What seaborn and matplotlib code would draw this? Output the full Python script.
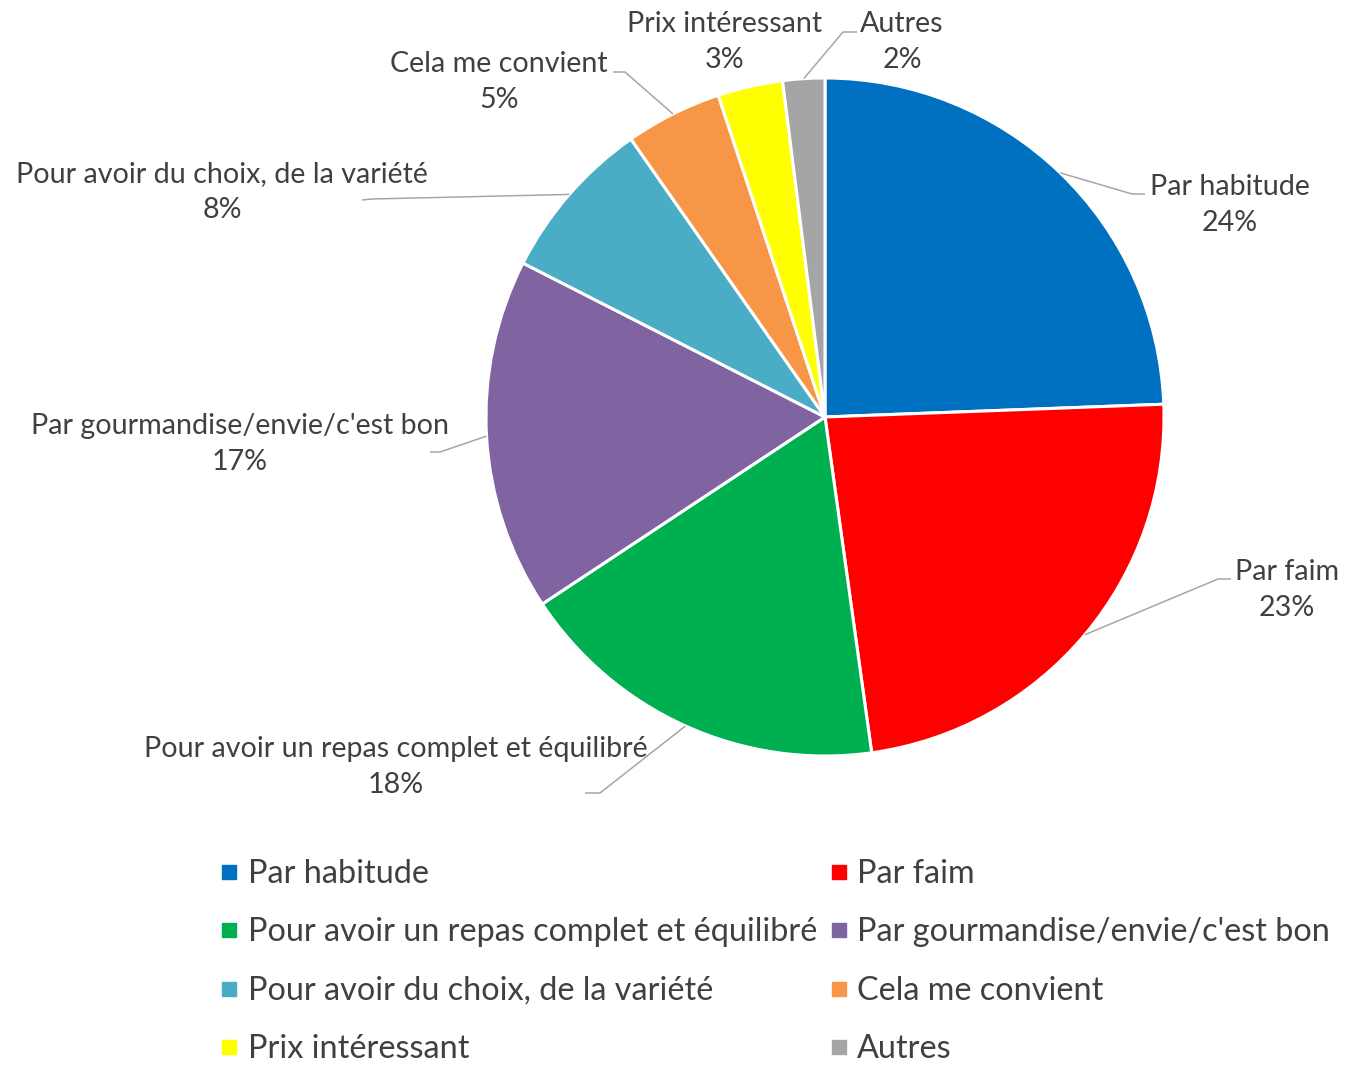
import numpy as np
import matplotlib
matplotlib.use("Agg")
import matplotlib.pyplot as plt
from matplotlib.lines import Line2D
import seaborn as sns

# data
categories = ["Par habitude", "Par faim", "Pour avoir un repas complet et équilibré",
              "Par gourmandise/envie/c'est bon", "Pour avoir du choix, de la variété",
              "Cela me convient", "Prix intéressant", "Autres"]
shares = [24.4, 23.4, 17.9, 16.8, 7.8, 4.6, 3.1, 2.0]
pct_labels = ["24%", "23%", "18%", "17%", "8%", "5%", "3%", "2%"]
colors = ["#0070C0", "#FF0000", "#00B050", "#8064A2", "#4BACC6", "#F79646", "#FFFF00", "#A5A5A5"]

W, H = 1345, 1069
CX, CY, R = 825, 417, 339   # pie centre / radius in pixels (y from top)

# label layout in pixels (y from top): text centre, elbow, end of leader
label_pos = [(1230, 205), (1287, 590), (396, 767), (240, 444),
             (222, 192), (499, 82), (725, 42), (902, 42)]
leaders = [((1132, 194), (1145, 194)), ((1218, 579), (1231, 579)),
           ((600, 793), (585, 793)), ((440, 452), (430, 452)),
           ((372, 199), (362, 200)), ((625, 72), (613, 72)),
           None, ((843, 32), (857, 32))]

sns.set_theme(style="white")
plt.rcParams["font.family"] = ["Lato", "DejaVu Sans"]
text_color = "#404040"
line_color = "#A6A6A6"

fig = plt.figure(figsize=(W / 100, H / 100), dpi=100)
ax = fig.add_axes([0, 0, 1, 1])


def fy(y):
    return H - y


wedges, _ = ax.pie(shares, colors=sns.color_palette(colors), startangle=90,
                   counterclock=False, radius=R, center=(CX, fy(CY)),
                   wedgeprops=dict(edgecolor="white", linewidth=2.2))
ax.set_xlim(0, W)
ax.set_ylim(0, H)
ax.set_aspect("auto")
ax.axis("off")

for w, name, pct, pos, lead in zip(wedges, categories, pct_labels, label_pos, leaders):
    ax.text(pos[0], fy(pos[1]), f"{name}\n{pct}", ha="center", va="center",
            fontsize=20.6, color=text_color, linespacing=1.48)
    if lead is None:
        continue
    mid = np.deg2rad((w.theta1 + w.theta2) / 2)
    sx = CX + R * np.cos(mid)
    sy = fy(CY) + R * np.sin(mid)
    (ex, ey), (tx, ty) = lead
    ax.plot([sx, ex, tx], [sy, fy(ey), fy(ty)], color=line_color, lw=1.1,
            solid_capstyle="butt")

# legend, filled row by row (two columns)
handles = [Line2D([], [], marker="s", linestyle="none", markersize=10.5,
                  markerfacecolor=c, markeredgecolor=c) for c in colors]
order = [0, 2, 4, 6, 1, 3, 5, 7]
leg = fig.legend([handles[i] for i in order], [categories[i] for i in order],
                 ncol=2, loc="upper left", bbox_to_anchor=(220 / W, 1 - 859 / H),
                 frameon=False, fontsize=23.3, handlelength=0.55, handletextpad=0.3,
                 columnspacing=0.4, labelspacing=0.88, borderpad=0, borderaxespad=0)
for t in leg.get_texts():
    t.set_color(text_color)

fig.savefig("out.png", dpi=100)
